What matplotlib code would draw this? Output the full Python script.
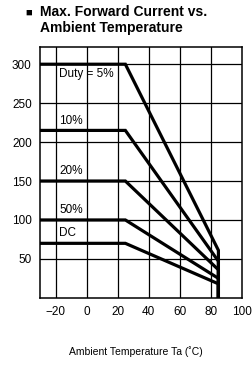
import matplotlib.pyplot as plt

plt.rcParams['font.family'] = ['Liberation Sans', 'DejaVu Sans']

# curvas de derating: plano hasta 25 C, luego baja hasta 85 C
duty_labels = ["Duty = 5%", "10%", "20%", "50%", "DC"]
corriente_max = [300, 215, 150, 100, 70]
corriente_fin = [61, 47, 36, 25, 18]
temp_codo = 25
temp_fin = 85
temp_ini = -30

x_ticks = [-20, 0, 20, 40, 60, 80, 100]
y_ticks = [50, 100, 150, 200, 250, 300]

fig = plt.figure(figsize=(2.52, 3.65), dpi=100)
ax = fig.add_axes([0.159, 0.184, 0.800, 0.687])

for xv in x_ticks[:-1]:
    ax.axvline(xv, color="black", lw=0.9, zorder=1)
for yv in y_ticks:
    ax.axhline(yv, color="black", lw=0.9, zorder=1)

for i in range(len(duty_labels)):
    xs = [temp_ini, temp_codo, temp_fin, temp_fin]
    ys = [corriente_max[i], corriente_max[i], corriente_fin[i], 0]
    ax.plot(xs, ys, color="black", lw=2.3, solid_joinstyle="miter", zorder=3)
    if i == 0:
        ax.text(-17.5, corriente_max[i] - 5, duty_labels[i], fontsize=8.5,
                va="top", ha="left", zorder=4)
    else:
        ax.text(-17.5, corriente_max[i] + 5, duty_labels[i], fontsize=8.5,
                va="bottom", ha="left", zorder=4)

ax.set_xlim(-30, 100)
ax.set_ylim(0, 322)
ax.set_xticks(x_ticks)
ax.set_xticklabels(["\u221220", "0", "20", "40", "60", "80", "100"])
ax.set_yticks(y_ticks)
ax.tick_params(length=0, labelsize=8.5, pad=6)
for sp in ax.spines.values():
    sp.set_linewidth(1.1)

fig.text(0.54, 0.022, "Ambient Temperature Ta (\u02daC)", fontsize=7.5,
         ha="center", va="bottom")
fig.text(0.10, 0.978, "\u25a0", fontsize=8, ha="left", va="top")
fig.text(0.158, 0.985, "Max. Forward Current vs.\nAmbient Temperature",
         fontsize=10, fontweight="bold", ha="left", va="top", linespacing=1.1)

fig.savefig("out.png", dpi=100)
